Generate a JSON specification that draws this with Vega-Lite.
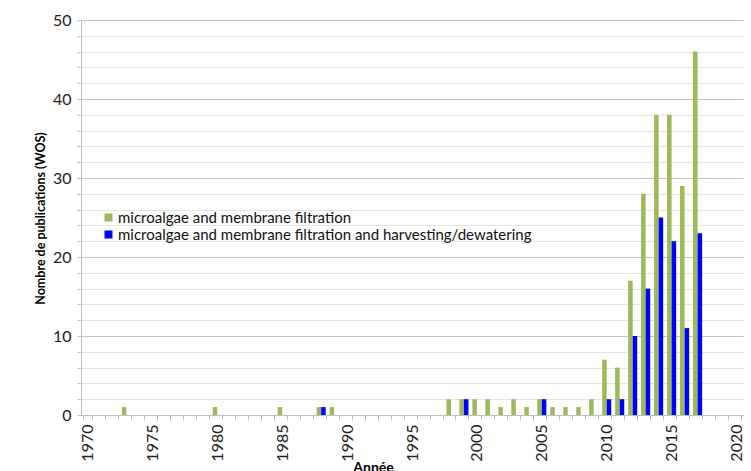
{
  "$schema": "https://vega.github.io/schema/vega-lite/v6.json",
  "autosize": "none",
  "width": 662,
  "height": 395,
  "padding": {"left": 81, "top": 20, "right": 8, "bottom": 56},
  "background": "white",
  "config": {
    "font": "Lato",
    "view": {"stroke": null},
    "axis": {"labelFont": "Lato", "titleFont": "Lato", "labelColor": "#222", "titleColor": "#000"}
  },
  "data": {
    "values": [
      {"year": 1973, "series": "microalgae and membrane filtration", "count": 1},
      {"year": 1980, "series": "microalgae and membrane filtration", "count": 1},
      {"year": 1985, "series": "microalgae and membrane filtration", "count": 1},
      {"year": 1988, "series": "microalgae and membrane filtration", "count": 1},
      {"year": 1989, "series": "microalgae and membrane filtration", "count": 1},
      {"year": 1998, "series": "microalgae and membrane filtration", "count": 2},
      {"year": 1999, "series": "microalgae and membrane filtration", "count": 2},
      {"year": 2000, "series": "microalgae and membrane filtration", "count": 2},
      {"year": 2001, "series": "microalgae and membrane filtration", "count": 2},
      {"year": 2002, "series": "microalgae and membrane filtration", "count": 1},
      {"year": 2003, "series": "microalgae and membrane filtration", "count": 2},
      {"year": 2004, "series": "microalgae and membrane filtration", "count": 1},
      {"year": 2005, "series": "microalgae and membrane filtration", "count": 2},
      {"year": 2006, "series": "microalgae and membrane filtration", "count": 1},
      {"year": 2007, "series": "microalgae and membrane filtration", "count": 1},
      {"year": 2008, "series": "microalgae and membrane filtration", "count": 1},
      {"year": 2009, "series": "microalgae and membrane filtration", "count": 2},
      {"year": 2010, "series": "microalgae and membrane filtration", "count": 7},
      {"year": 2011, "series": "microalgae and membrane filtration", "count": 6},
      {"year": 2012, "series": "microalgae and membrane filtration", "count": 17},
      {"year": 2013, "series": "microalgae and membrane filtration", "count": 28},
      {"year": 2014, "series": "microalgae and membrane filtration", "count": 38},
      {"year": 2015, "series": "microalgae and membrane filtration", "count": 38},
      {"year": 2016, "series": "microalgae and membrane filtration", "count": 29},
      {"year": 2017, "series": "microalgae and membrane filtration", "count": 46},
      {"year": 1988, "series": "microalgae and membrane filtration and harvesting/dewatering", "count": 1},
      {"year": 1999, "series": "microalgae and membrane filtration and harvesting/dewatering", "count": 2},
      {"year": 2005, "series": "microalgae and membrane filtration and harvesting/dewatering", "count": 2},
      {"year": 2010, "series": "microalgae and membrane filtration and harvesting/dewatering", "count": 2},
      {"year": 2011, "series": "microalgae and membrane filtration and harvesting/dewatering", "count": 2},
      {"year": 2012, "series": "microalgae and membrane filtration and harvesting/dewatering", "count": 10},
      {"year": 2013, "series": "microalgae and membrane filtration and harvesting/dewatering", "count": 16},
      {"year": 2014, "series": "microalgae and membrane filtration and harvesting/dewatering", "count": 25},
      {"year": 2015, "series": "microalgae and membrane filtration and harvesting/dewatering", "count": 22},
      {"year": 2016, "series": "microalgae and membrane filtration and harvesting/dewatering", "count": 11},
      {"year": 2017, "series": "microalgae and membrane filtration and harvesting/dewatering", "count": 23}
    ]
  },
  "mark": {"type": "bar"},
  "encoding": {
    "x": {
      "field": "year",
      "type": "ordinal",
      "scale": {
        "domain": [1970,1971,1972,1973,1974,1975,1976,1977,1978,1979,1980,1981,1982,1983,1984,1985,1986,1987,1988,1989,1990,1991,1992,1993,1994,1995,1996,1997,1998,1999,2000,2001,2002,2003,2004,2005,2006,2007,2008,2009,2010,2011,2012,2013,2014,2015,2016,2017,2018,2019,2020],
        "paddingInner": 0.3,
        "paddingOuter": 0.15
      },
      "axis": {
        "title": "Année",
        "titleFontSize": 14,
        "titleFontWeight": "bold",
        "titleX": 292,
        "titleY": 45,
        "titleBaseline": "top",
        "labelAngle": -90,
        "labelFontSize": 16,
        "labelPadding": 4,
        "labelExpr": "datum.value % 5 === 0 ? datum.label : ''",
        "tickBand": "extent",
        "tickColor": "#bfbfbf",
        "tickSize": 5,
        "domainColor": "#bfbfbf",
        "grid": false
      }
    },
    "xOffset": {
      "field": "series",
      "type": "nominal",
      "scale": {"domain": ["microalgae and membrane filtration", "microalgae and membrane filtration and harvesting/dewatering"]}
    },
    "y": {
      "field": "count",
      "type": "quantitative",
      "scale": {"domain": [0, 50], "nice": false},
      "axis": {
        "title": "Nombre de publications (WOS)",
        "titleFontSize": 12.5,
        "titleFontWeight": "bold",
        "titlePadding": 5,
        "titleY": 198,
        "values": [0,2,4,6,8,10,12,14,16,18,20,22,24,26,28,30,32,34,36,38,40,42,44,46,48,50],
        "labelExpr": "datum.value % 10 === 0 ? datum.label : ''",
        "labelFontSize": 16,
        "labelPadding": 6,
        "tickColor": "#bfbfbf",
        "tickSize": 4,
        "domainColor": "#bfbfbf",
        "grid": true,
        "gridColor": {"condition": {"test": "datum.value % 10 === 0", "value": "#c4c4c4"}, "value": "#e4e4e4"},
        "gridWidth": 1.2
      }
    },
    "color": {
      "field": "series",
      "type": "nominal",
      "scale": {
        "domain": ["microalgae and membrane filtration", "microalgae and membrane filtration and harvesting/dewatering"],
        "range": ["#9BBB59", "#0000FF"]
      },
      "legend": {
        "title": null,
        "orient": "none",
        "legendX": 20,
        "legendY": 190,
        "symbolType": "square",
        "symbolSize": 64,
        "symbolStrokeWidth": 0,
        "labelFontSize": 15,
        "labelFont": "Lato",
        "labelColor": "#111",
        "labelLimit": 600,
        "rowPadding": 1,
        "labelOffset": 2,
        "padding": 0,
        "fillColor": null
      }
    }
  }
}
